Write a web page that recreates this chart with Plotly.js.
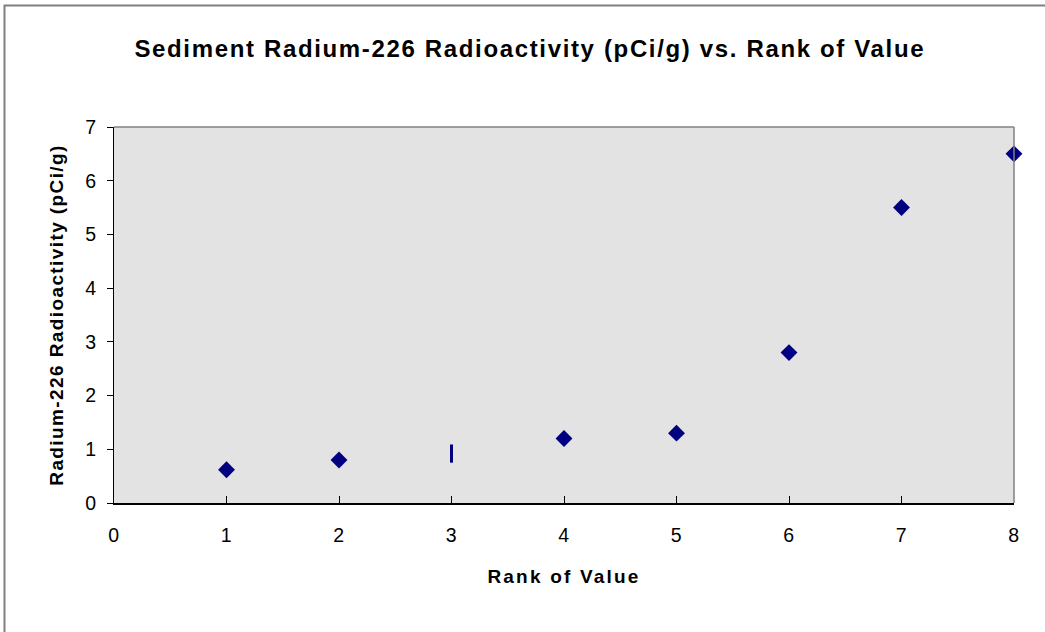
<!DOCTYPE html>
<html><head><meta charset="utf-8">
<script src="https://cdn.plot.ly/plotly-3.0.1.min.js"></script>
<style>
html,body{margin:0;padding:0;background:#fff}
#chart{width:1045px;height:632px}
#chart .gtitle{letter-spacing:1.65px}
#chart .xtitle{letter-spacing:2.2px}
#chart .ytitle{letter-spacing:1.4px}
#chart .xtick text,#chart .ytick text{letter-spacing:0.5px}
</style>
</head><body><div id="chart"></div>
<script>
const ranks = [1, 2, 3, 4, 5, 6, 7, 8];
const radium = [0.62, 0.8, 0.92, 1.2, 1.3, 2.8, 5.5, 6.5];
const markerSymbols = ['diamond','diamond','line-ns-open','diamond','diamond','diamond','diamond','diamond'];
const xTicks = [0,1,2,3,4,5,6,7,8];
const yTicks = [0,1,2,3,4,5,6,7];

const font = 'Liberation Sans, Arial, sans-serif';
const trace = {
  x: ranks, y: radium, type: 'scatter', mode: 'markers',
  marker: {symbol: markerSymbols, size: 13, color: '#000080',
           line: {color: '#000080', width: [0,0,3,0,0,0,0,0]}},
  cliponaxis: false, hoverinfo: 'x+y'
};
const layout = {
  width: 1045, height: 632,
  margin: {l: 114, r: 31, t: 127, b: 129},
  paper_bgcolor: '#ffffff', plot_bgcolor: '#e3e3e3',
  showlegend: false,
  title: {text: '<b>Sediment Radium-226 Radioactivity (pCi/g) vs. Rank of Value</b>',
          font: {family: font, size: 24, color: '#000'}, x: 0.507, xanchor: 'center',
          yref: 'container', y: 1 - 49/632, yanchor: 'middle'},
  xaxis: {range: [0, 8], tickvals: xTicks, ticktext: xTicks.map(String), showgrid: false, zeroline: false,
          showline: true, linecolor: '#000', linewidth: 1.5, ticks: 'inside', ticklen: 7, tickcolor: '#000',
          ticklabelstandoff: 14,
          tickfont: {family: font, size: 19.5, color: '#000'},
          title: {text: '<b>Rank of Value</b>', font: {family: font, size: 19, color: '#000'}, standoff: 25}},
  yaxis: {range: [0, 7], tickvals: yTicks, ticktext: yTicks.map(String), showgrid: false, zeroline: false,
          showline: true, linecolor: '#000', linewidth: 1.5, ticks: 'outside', ticklen: 6, tickcolor: '#000',
          ticklabelstandoff: 6,
          tickfont: {family: font, size: 19.5, color: '#000'},
          title: {text: '<b>Radium-226 Radioactivity (pCi/g)</b>', font: {family: font, size: 19, color: '#000'}, standoff: 17}},
  shapes: [
    {type: 'line', xref: 'paper', yref: 'paper', x0: 0, x1: 1, y0: 1, y1: 1, line: {color: '#808080', width: 1.5}},
    {type: 'line', xref: 'paper', yref: 'paper', x0: 1, x1: 1, y0: 0, y1: 1, line: {color: '#808080', width: 1.5}},
    {type: 'rect', xref: 'paper', yref: 'paper', x0: (4.5-114)/900, x1: 2, y0: -1, y1: (503-5.5)/376,
     line: {color: '#808080', width: 2}, fillcolor: 'rgba(0,0,0,0)'}
  ]
};
Plotly.newPlot('chart', [trace], layout, {displayModeBar: false, staticPlot: true});
</script></body></html>
